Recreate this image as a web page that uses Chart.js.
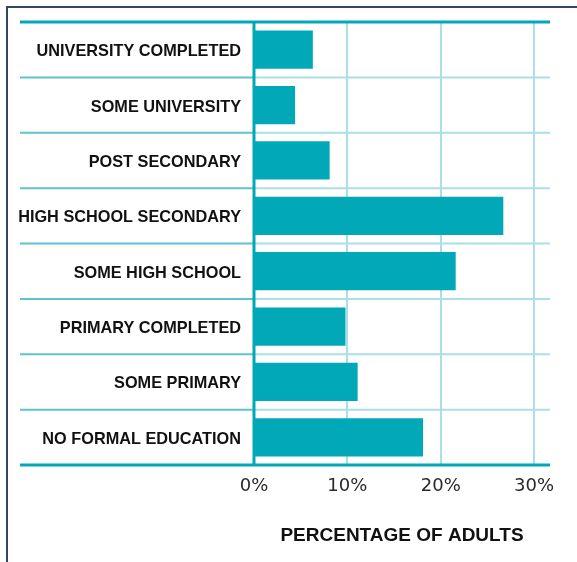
<!DOCTYPE html>
<html>
<head>
<meta charset="utf-8">
<script src="https://cdn.jsdelivr.net/npm/chart.js@4"></script>
<style>
  body { margin: 0; background: #fff; }
  #wrap { width: 577px; height: 562px; position: relative; }
</style>
</head>
<body>
<div id="wrap"><canvas id="myChart" width="577" height="562"></canvas></div>
<script>
// data
const categories = ['UNIVERSITY COMPLETED', 'SOME UNIVERSITY', 'POST SECONDARY', 'HIGH SCHOOL SECONDARY',
    'SOME HIGH SCHOOL', 'PRIMARY COMPLETED', 'SOME PRIMARY', 'NO FORMAL EDUCATION'];
const shareOfAdults = [6.3, 4.4, 8.1, 26.7, 21.6, 9.8, 11.1, 18.1];
const tickValues = [0, 10, 20, 30];
const axisTitle = 'PERCENTAGE OF ADULTS';

const TEAL = '#00a8b8';
const LIGHT = '#aadfe6';

// frame + row separators that run through the label column
const framePlugin = {
    id: 'frame',
    beforeDraw(chart) {
        const c = chart.ctx;
        c.save();
        c.strokeStyle = '#2f4666';
        c.lineWidth = 2;
        c.beginPath();
        c.moveTo(577, 7);
        c.lineTo(7, 7);
        c.lineTo(7, 562);
        c.stroke();
        c.restore();
    },
    afterDraw(chart) {
        const c = chart.ctx;
        const y = chart.scales.y;
        const area = chart.chartArea;
        const x0 = 20;
        c.save();
        for (let i = 1; i < categories.length; i++) {
            const py = (y.getPixelForTick(i - 1) + y.getPixelForTick(i)) / 2;
            c.lineWidth = 2;
            c.strokeStyle = '#5cc3cf';
            c.beginPath();
            c.moveTo(x0, py);
            c.lineTo(area.left, py);
            c.stroke();
            c.strokeStyle = LIGHT;
            c.beginPath();
            c.moveTo(area.left, py);
            c.lineTo(area.right, py);
            c.stroke();
        }
        c.strokeStyle = TEAL;
        c.lineWidth = 3;
        [area.top, area.bottom].forEach(py => {
            c.beginPath();
            c.moveTo(x0, py);
            c.lineTo(area.right, py);
            c.stroke();
        });
        c.beginPath();
        c.moveTo(area.left, area.top);
        c.lineTo(area.left, area.bottom);
        c.stroke();
        c.restore();
    }
};

const ctx = document.getElementById('myChart').getContext('2d');
const chart = new Chart(ctx, {
    type: 'bar',
    data: {
        labels: categories,
        datasets: [{
            data: shareOfAdults,
            backgroundColor: TEAL,
            borderWidth: 0,
            barPercentage: 0.69,
            categoryPercentage: 1
        }]
    },
    options: {
        indexAxis: 'y',
        responsive: false,
        animation: false,
        layout: { padding: { left: 8, right: 27, top: 22, bottom: 0 } },
        plugins: { legend: { display: false }, tooltip: { enabled: false } },
        scales: {
            x: {
                min: 0,
                max: 31.7,
                afterBuildTicks: s => { s.ticks = tickValues.map(v => ({ value: v })); },
                afterFit: s => { s.height = 97; },
                grid: { color: LIGHT, lineWidth: 2, drawTicks: false },
                border: { display: false },
                ticks: {
                    padding: 11,
                    color: '#2a2a2a',
                    font: { family: 'DejaVu Sans', size: 18, weight: 'normal' },
                    callback: v => v + '%'
                },
                title: {
                    display: true,
                    text: axisTitle,
                    color: '#111',
                    font: { family: 'Liberation Sans', size: 19, weight: 'bold' },
                    padding: { top: 0, bottom: 15 }
                }
            },
            y: {
                afterFit: s => { s.width = 246; },
                grid: { display: false },
                border: { display: false },
                ticks: {
                    padding: 5,
                    labelOffset: 2,
                    color: '#111',
                    font: { family: 'Liberation Sans', size: 16.3, weight: 'bold' }
                }
            }
        }
    },
    plugins: [framePlugin]
});
</script>
</body>
</html>
